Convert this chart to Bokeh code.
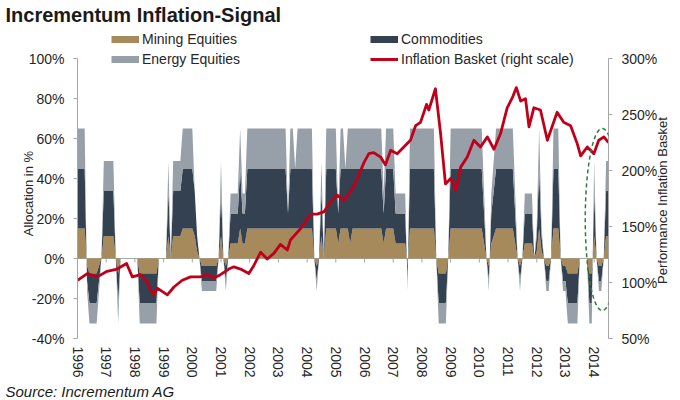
import numpy as np
from bokeh.plotting import figure
from bokeh.models import (Range1d, LinearAxis, FixedTicker, PrintfTickFormatter, Span,
                          Legend, LegendItem, Title, Label, PolyAnnotation, ColumnDataSource)
from bokeh.embed import file_html
from bokeh.resources import INLINE

FONT = "Liberation Sans"
TAN = "#a68a5b"
NAVY = "#344150"
GREY = "#979fa8"
RED = "#c0001a"
AXIS = "#a6a6a6"
TEXT = "#262626"

# monthly allocation in %, Jan 1996 .. Jul 2014
start_year = 1996
years = list(range(1996, 2015))

mining = [
    15, 15, 15, 15, -3.75, -7.5, -7.5, -7.5, -7.5, -3.75, 0, 11.25,            # 1996
    11.25, 11.25, 11.25, 11.25, 0, -7.5, 0, 0, 0, 0, 0, 0,                      # 1997
    0, 0, -7.5, -7.5, -7.5, -7.5, -7.5, -7.5, -7.5, -7.5, 0, 0,                 # 1998
    0, 0, 11.25, 0, 11.25, 11.25, 11.25, 11.25, 15, 15, 15, 15,                 # 1999
    15, 11.25, 3.75, 0, -3.75, -3.75, -3.75, -3.75, -3.75, -3.75, -3.75, 0,     # 2000
    11.25, 0, -3.75, 0, 7.5, 7.5, 7.5, 7.5, 15, 7.5, 7.5, 15,                   # 2001
    15, 15, 15, 15, 15, 15, 15, 15, 15, 15, 15, 15,                             # 2002
    15, 15, 15, 15, 15, 15, 15, 15, 15, 15, 15, 15,                             # 2003
    15, 15, 15, 0, -3.75, 0, 11.25, 0, 15, 15, 15, 15,                          # 2004
    15, 7.5, 15, 15, 15, 15, 7.5, 15, 15, 15, 15, 15,                           # 2005
    15, 15, 15, 15, 15, 15, 15, 15, 7.5, 15, 15, 15,                            # 2006
    15, 7.5, 7.5, 7.5, 7.5, 7.5, -3.75, 15, 15, 15, 15, 15,                     # 2007
    15, 15, 15, 15, 15, 15, 0, -7.5, -7.5, -7.5, -7.5, 0,                       # 2008
    15, 15, 15, 15, 15, 15, 15, 15, 15, 15, 15, 15,                             # 2009
    15, 15, 7.5, 0, -3.75, 7.5, 11.25, 15, 15, 15, 15, 15,                      # 2010
    15, 15, 15, 7.5, 0, -3.75, 0, 7.5, 7.5, 7.5, 7.5, 0,                        # 2011
    3.75, 15, 3.75, 0, -3.75, -3.75, 0, 15, 15, 15, 0, -3.75,                   # 2012
    -3.75, -7.5, -7.5, -7.5, -7.5, -7.5, 0, 0, 0, 0, -7.5, -7.5,                # 2013
    11.25, 0, -3.75, -3.75, 0, 11.25, 11.25,                                    # 2014
]

commodities = [
    30, 30, 30, 30, -7.5, -15, -15, -15, -15, -7.5, 0, 22.5,
    22.5, 22.5, 22.5, 22.5, 0, -15, 0, 0, 0, 0, 0, 0,
    0, 0, -15, -15, -15, -15, -15, -15, -15, -15, 0, 0,
    0, 0, 22.5, 0, 22.5, 22.5, 22.5, 22.5, 30, 30, 30, 30,
    30, 22.5, 7.5, 0, -7.5, -7.5, -7.5, -7.5, -7.5, -7.5, -7.5, 0,
    22.5, 0, -7.5, 0, 15, 15, 15, 15, 30, 15, 15, 30,
    30, 30, 30, 30, 30, 30, 30, 30, 30, 30, 30, 30,
    30, 30, 30, 30, 7.5, 30, 30, 30, 30, 30, 30, 30,
    30, 30, 30, 0, -7.5, 0, 22.5, 0, 30, 30, 30, 30,
    30, 15, 30, 30, 30, 30, 37.5, 30, 30, 30, 30, 30,
    30, 30, 30, 30, 30, 30, 30, 30, 15, 30, 30, 30,
    30, 15, 15, 15, 15, 15, -7.5, 30, 30, 30, 30, 30,
    30, 30, 30, 30, 30, 30, 0, -15, -15, -15, -15, 0,
    30, 30, 30, 30, 30, 30, 30, 30, 30, 30, 30, 30,
    30, 30, 15, 0, -7.5, 15, 22.5, 30, 30, 30, 30, 30,
    30, 30, 30, 15, 0, -7.5, 0, 15, 15, 15, 15, 0,
    7.5, 30, 7.5, 0, -7.5, -7.5, 0, 30, 30, 30, 0, -7.5,
    -7.5, -15, -15, -15, -15, -15, 0, 0, 0, 0, -15, -15,
    22.5, 0, -7.5, -7.5, 0, 22.5, 22.5,
]

energy = [
    20, 20, 20, 20, -5, -10, -10, -10, -10, -5, 0, 15,
    15, 15, 15, 15, 0, -10, 0, 0, 0, 0, 0, 0,
    0, 0, -10, -10, -10, -10, -10, -10, -10, -10, 0, 0,
    0, 0, 15, 0, 15, 15, 15, 15, 20, 20, 20, 20,
    20, 0, 0, 0, -5, -5, -5, -5, -5, -5, -5, 0,
    15, 0, -5, 0, 10, 10, 10, 10, 20, 10, 10, 20,
    20, 20, 20, 20, 20, 20, 20, 20, 20, 20, 20, 20,
    20, 20, 20, 20, 0, 20, 20, 0, 20, 20, 20, 20,
    20, 20, 20, 0, -5, 0, 15, 0, 20, 20, 20, 20,
    20, 0, 20, 20, 0, 20, 20, 20, 20, 20, 20, 20,
    20, 20, 20, 20, 20, 20, 20, 20, 10, 20, 20, 20,
    20, 10, 10, 10, 10, 10, -5, 20, 20, 20, 20, 20,
    20, 20, 20, 20, 20, 20, 0, -10, -10, -10, -10, 0,
    20, 20, 20, 20, 20, 20, 20, 20, 20, 20, 20, 20,
    20, 20, 10, 0, -5, 10, 15, 20, 20, 20, 20, 20,
    20, 20, 20, 10, 0, -5, 0, 10, 10, 10, 10, 0,
    5, 20, 5, 0, -5, -5, 0, 20, 20, 20, 0, -5,
    -5, -10, -10, -10, -10, -10, 0, 0, 0, 0, -10, -10,
    15, 0, -5, -5, 0, 15, 15,
]

# inflation basket, right scale (%)
basket_year = [
    1996.00, 1996.34, 1996.69, 1997.03, 1997.38, 1997.71, 1997.91, 1998.20, 1998.43, 1998.64,
    1998.78, 1999.13, 1999.36, 1999.65, 1999.94, 2000.29, 2000.52, 2000.75, 2000.98, 2001.27,
    2001.45, 2001.68, 2001.97, 2002.14, 2002.38, 2002.61, 2002.84, 2003.07, 2003.31, 2003.42,
    2003.77, 2004.12, 2004.35, 2004.58, 2004.82, 2005.05, 2005.28, 2005.51, 2005.75, 2005.98,
    2006.15, 2006.32, 2006.56, 2006.73, 2006.91, 2007.14, 2007.37, 2007.60, 2007.78, 2007.95,
    2008.07, 2008.16, 2008.24, 2008.47, 2008.65, 2008.82, 2009.00, 2009.18, 2009.35, 2009.58,
    2009.81, 2010.04, 2010.28, 2010.51, 2010.74, 2010.97, 2011.15, 2011.29, 2011.44, 2011.61,
    2011.73, 2011.90, 2012.13, 2012.37, 2012.71, 2012.94, 2013.18, 2013.41, 2013.53, 2013.76,
    2013.99, 2014.16, 2014.34, 2014.50,
]
basket_value = [
    102, 108, 105, 110, 112, 117, 105, 107, 100, 89,
    95, 89, 96, 102, 105, 105, 107, 104, 107, 112,
    114, 112, 108, 115, 127, 121, 126, 134, 129, 138,
    148, 161, 161, 163, 172, 178, 173, 181, 193, 207,
    215, 216, 212, 205, 218, 215, 221, 227, 240, 243,
    252, 259, 254, 273, 233, 188, 193, 182, 203, 212,
    227, 221, 230, 219, 233, 256, 265, 274, 262, 264,
    239, 256, 254, 227, 252, 243, 240, 224, 213, 221,
    215, 227, 230, 225,
]

alloc_ticks = [-40, -20, 0, 20, 40, 60, 80, 100]
basket_ticks = [50, 100, 150, 200, 250, 300]

# highlight ellipse around the latest signal
ring_x, ring_y, ring_w, ring_h = 2014.28, 19.5, 1.18, 91

months = np.arange(len(mining))
m = np.array(mining, dtype=float)
c = np.array(commodities, dtype=float)
e = np.array(energy, dtype=float)
src = ColumnDataSource(dict(x=start_year + months / 12.0, zero=np.zeros(len(m)),
                            m=m, mc=m + c, mce=m + c + e))

# frame is taller than the -40..100 axis so the legend fits inside it
p = figure(width=680, height=400, output_backend="svg", toolbar_location=None,
           x_range=Range1d(start_year, start_year + (len(mining) - 1) / 12.0),
           y_range=Range1d(-40, 116),
           min_border_left=77, min_border_right=72, min_border_top=26, min_border_bottom=62)
p.outline_line_color = None
p.grid.visible = False
p.extra_y_ranges = {"basket": Range1d(50, 50 + 312 * 250 / 280)}

p.title.text = "Incrementum Inflation-Signal"
p.title.align = "left"
p.title.offset = -72
p.title.standoff = 1
p.title.text_font = FONT
p.title.text_font_size = "20px"
p.title.text_font_style = "bold"
p.title.text_color = "#1a1a1a"

p.add_layout(Span(location=0, dimension="width", line_color=AXIS, line_width=1, level="underlay"))
p.segment(x0=years[1:], y0=0, x1=years[1:], y1=-2, line_color=AXIS, line_width=1)

p.varea(x="x", y1="zero", y2="m", source=src, fill_color=TAN)
p.varea(x="x", y1="m", y2="mc", source=src, fill_color=NAVY)
p.varea(x="x", y1="mc", y2="mce", source=src, fill_color=GREY)

p.line(basket_year, basket_value, y_range_name="basket", line_color=RED,
       line_width=2.8, line_join="round")

t = np.linspace(0, 2 * np.pi, 120)
p.add_layout(PolyAnnotation(xs=list(ring_x + ring_w / 2 * np.cos(t)),
                            ys=list(ring_y + ring_h / 2 * np.sin(t)),
                            fill_color=None, line_color="#2e7b3c", line_alpha=1.0,
                            line_width=1.5, line_dash="4 3"))


def style_axis(ax):
    ax.axis_line_color = AXIS
    ax.major_tick_line_color = AXIS
    ax.minor_tick_line_color = None
    ax.major_tick_in = 0
    ax.major_tick_out = 4
    ax.major_label_text_font = FONT
    ax.major_label_text_font_size = "14px"
    ax.major_label_text_color = TEXT


left = p.yaxis[0]
style_axis(left)
left.bounds = (-40, 100)
left.ticker = FixedTicker(ticks=alloc_ticks)
left.formatter = PrintfTickFormatter(format="%d%%")
left.major_label_standoff = 9

right = LinearAxis(y_range_name="basket", ticker=FixedTicker(ticks=basket_ticks),
                   formatter=PrintfTickFormatter(format="%d%%"), bounds=(50, 300))
style_axis(right)
right.major_label_standoff = 9
p.add_layout(right, "right")

bottom = p.xaxis[0]
style_axis(bottom)
bottom.ticker = FixedTicker(ticks=years)
bottom.formatter = PrintfTickFormatter(format="%d")
bottom.major_label_orientation = "vertical"
bottom.axis_line_color = None
bottom.major_tick_line_color = None
bottom.major_tick_out = 0
bottom.axis_label_standoff = 0
bottom.major_label_standoff = 8

# axis titles as side-panel labels, both reading bottom to top
for side, x_px, y_px, text in (("left", 18, 145, "Allocation in %"),
                               ("right", 2, 138, "Performance Inflation Basket")):
    p.add_layout(Label(x=x_px, y=y_px, x_units="screen", y_units="screen", text=text,
                       angle=np.pi / 2, text_align="center", text_baseline="middle",
                       text_font=FONT, text_font_size="13px", text_color=TEXT), side)

p.add_layout(Title(text="Source: Incrementum AG", align="left", offset=-72, standoff=0,
                   text_font=FONT, text_font_size="15px", text_font_style="italic",
                   text_color="#1a1a1a"), "below")

# legend proxies (no visible data)
r_m = p.line(x=[np.nan], y=[np.nan], line_color=TAN, line_width=7)
r_c = p.line(x=[np.nan], y=[np.nan], line_color=NAVY, line_width=7)
r_e = p.line(x=[np.nan], y=[np.nan], line_color=GREY, line_width=7)
r_b = p.line(x=[np.nan], y=[np.nan], line_color=RED, line_width=3)

# location is the legend's lower-left corner, in px from the frame's lower-left
for items, bottom_px in (([("Mining Equities", r_m), ("Commodities", r_c)], 289),
                         ([("Energy Equities", r_e), ("Inflation Basket (right scale)", r_b)], 269)):
    leg = Legend(items=[LegendItem(label=lab, renderers=[r]) for lab, r in items],
                 orientation="horizontal", location=(34, bottom_px),
                 glyph_width=28, glyph_height=20, label_height=20, label_width=228,
                 label_standoff=3, spacing=0, padding=0, margin=0,
                 border_line_color=None, background_fill_alpha=0,
                 label_text_font=FONT, label_text_font_size="14px", label_text_color=TEXT)
    p.add_layout(leg)

open("out.html", "w").write(file_html(p, INLINE))
